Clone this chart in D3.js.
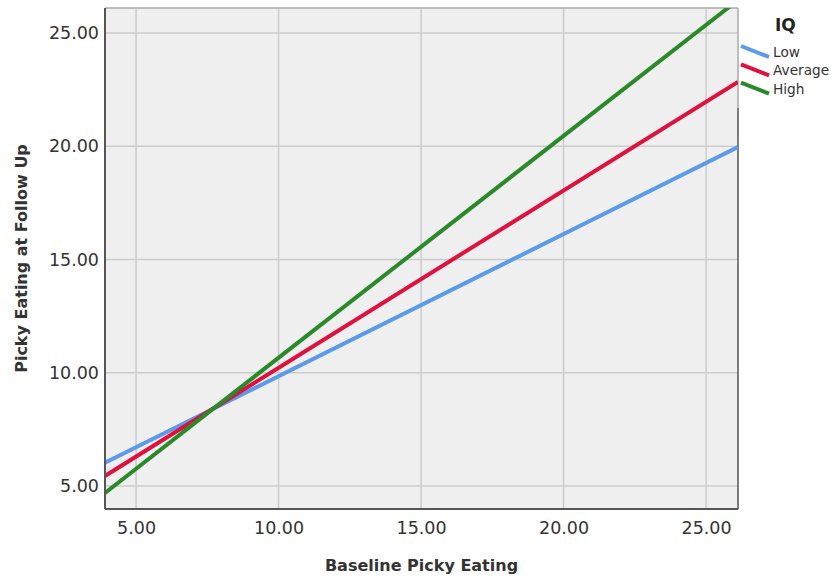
<!DOCTYPE html>
<html><head><meta charset="utf-8">
<script src="https://cdn.jsdelivr.net/npm/d3@7"></script>
<style>body{margin:0;background:#fff;} svg{display:block;}</style>
</head><body>
<svg id="chart" width="831" height="577"></svg>
<script>
const xTicks = [5, 10, 15, 20, 25];
const yTicks = [5, 10, 15, 20, 25];
const xDomain = [3.91, 26.12];
const yDomain = [3.98, 26.1];
const seriesNames = ["Low", "Average", "High"];
const seriesColors = ["#5b9bea", "#e0103f", "#2a8a2a"];
const lineX = [3.91, 26.12];
const lowY = [6.02, 19.96];
const averageY = [5.44, 22.84];
const highY = [4.69, 26.45];
const seriesY = [lowY, averageY, highY];

const svg = d3.select("#chart");
const m = {l: 105, r: 738, t: 8, b: 509};
const x = d3.scaleLinear().domain(xDomain).range([m.l, m.r]);
const y = d3.scaleLinear().domain(yDomain).range([m.b, m.t]);
const font = "'DejaVu Sans', sans-serif";

svg.append("defs").append("clipPath").attr("id","clip")
  .append("rect").attr("x", m.l).attr("y", m.t).attr("width", m.r-m.l).attr("height", m.b-m.t);

svg.append("rect").attr("x", m.l).attr("y", m.t).attr("width", m.r-m.l).attr("height", m.b-m.t).attr("fill", "#efefef");

// grid
svg.append("g").selectAll("line.v").data(xTicks).join("line")
  .attr("x1", d=>x(d)).attr("x2", d=>x(d)).attr("y1", m.t).attr("y2", m.b)
  .attr("stroke", "#cccccc").attr("stroke-width", 1.5);
svg.append("g").selectAll("line.h").data(yTicks).join("line")
  .attr("y1", d=>y(d)).attr("y2", d=>y(d)).attr("x1", m.l).attr("x2", m.r)
  .attr("stroke", "#cccccc").attr("stroke-width", 1.5);

// frame
svg.append("line").attr("x1", m.l).attr("x2", m.r).attr("y1", m.t).attr("y2", m.t).attr("stroke", "#aaaaaa").attr("stroke-width", 1.5);
svg.append("line").attr("x1", m.r).attr("x2", m.r).attr("y1", m.t).attr("y2", 108).attr("stroke", "#aaaaaa").attr("stroke-width", 1.5);
svg.append("line").attr("x1", m.r).attr("x2", m.r).attr("y1", 108).attr("y2", m.b).attr("stroke", "#555555").attr("stroke-width", 1.5);

// lines
const lineGen = d3.line().x(d=>x(d[0])).y(d=>y(d[1]));
const lg = svg.append("g").attr("clip-path", "url(#clip)");
seriesY.forEach((ys, i) => {
  lg.append("path").datum(lineX.map((xv, j) => [xv, ys[j]]))
    .attr("d", lineGen).attr("fill", "none")
    .attr("stroke", seriesColors[i]).attr("stroke-width", 4);
});

svg.append("line").attr("x1", m.l).attr("x2", m.l).attr("y1", m.t).attr("y2", m.b).attr("stroke", "#555555").attr("stroke-width", 2);
svg.append("line").attr("x1", m.l).attr("x2", m.r).attr("y1", m.b).attr("y2", m.b).attr("stroke", "#555555").attr("stroke-width", 2);

// axes
const xAxis = svg.append("g").attr("transform", `translate(0,${m.b})`)
  .call(d3.axisBottom(x).tickValues(xTicks).tickFormat(d3.format(".2f")).tickSize(0).tickPadding(13));
const yAxis = svg.append("g").attr("transform", `translate(${m.l},0)`)
  .call(d3.axisLeft(y).tickValues(yTicks).tickFormat(d3.format(".2f")).tickSize(0).tickPadding(6));
[xAxis, yAxis].forEach(a => {
  a.select(".domain").remove();
  a.selectAll("text").attr("font-family", font).attr("font-size", 17.5).attr("fill", "#333333");
});

svg.append("text").attr("x", (m.l+m.r)/2).attr("y", 571).attr("text-anchor", "middle")
  .attr("font-family", font).attr("font-weight", "bold").attr("font-size", 16).attr("fill", "#333333")
  .text("Baseline Picky Eating");
svg.append("text").attr("transform", `translate(27,${(m.t+m.b)/2}) rotate(-90)`).attr("text-anchor", "middle")
  .attr("font-family", font).attr("font-weight", "bold").attr("font-size", 16).attr("fill", "#333333")
  .text("Picky Eating at Follow Up");

// legend
const leg = svg.append("g");
leg.append("text").attr("x", 775).attr("y", 31).attr("font-family", font).attr("font-weight", "bold")
  .attr("font-size", 17).attr("fill", "#222").text("IQ");
seriesNames.forEach((n, i) => {
  const yy = 46 + i*18.3;
  leg.append("line").attr("x1", 741).attr("x2", 769).attr("y1", yy).attr("y2", yy+11)
    .attr("stroke", seriesColors[i]).attr("stroke-width", 4);
  leg.append("text").attr("x", 773).attr("y", yy+11).attr("font-family", font).attr("font-size", 13.7)
    .attr("fill", "#333").text(n);
});
</script>
</body></html>
